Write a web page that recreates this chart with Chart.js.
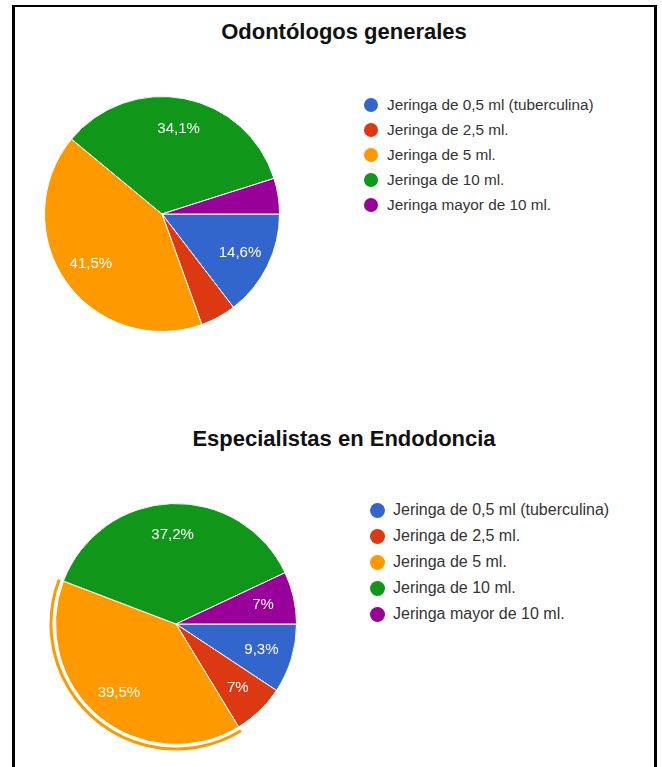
<!DOCTYPE html>
<html>
<head>
<meta charset="utf-8">
<script src="https://cdn.jsdelivr.net/npm/chart.js@4/dist/chart.umd.min.js"></script>
<style>
  body { margin: 0; background: #fff; font-family: "Liberation Sans", Arial, sans-serif; }
  #frame { position: absolute; left: 12px; top: 5px; width: 639px; height: 800px;
           border-left: 3px solid #000; border-right: 3px solid #000; border-top: 2px solid #000; }
  .title { position: absolute; left: 0; width: 688px; text-align: center;
           font-weight: bold; font-size: 22px; color: #111; }
  canvas { position: absolute; }
  ul.legend { position: absolute; list-style: none; margin: 0; padding: 0; color: #333; }
  ul.legend li { display: flex; align-items: center; white-space: nowrap; }
  ul.legend li span { display: inline-block; border-radius: 50%; flex: none; }
  #leg1 { left: 364px; top: 92px; font-size: 15.3px; }
  #leg1 li { height: 25px; }
  #leg1 li span { width: 14px; height: 14px; margin-right: 9px; }
  #leg2 { left: 370px; top: 497px; font-size: 16px; }
  #leg2 li { height: 26px; }
  #leg2 li span { width: 15px; height: 15px; margin-right: 8px; }
</style>
</head>
<body>
<div id="frame"></div>
<div class="title" style="top:19px">Odontólogos generales</div>
<div class="title" style="top:426px">Especialistas en Endodoncia</div>
<canvas id="pie1" width="238" height="238" style="left:43px;top:95px"></canvas>
<ul class="legend" id="leg1"></ul>
<canvas id="pie2" width="256" height="256" style="left:48px;top:496px"></canvas>
<ul class="legend" id="leg2"></ul>
<script>
// categorias y porcentajes
const categorias = [
  'Jeringa de 0,5 ml (tuberculina)',
  'Jeringa de 2,5 ml.',
  'Jeringa de 5 ml.',
  'Jeringa de 10 ml.',
  'Jeringa mayor de 10 ml.'
];
const generales = [14.6, 4.9, 41.5, 34.1, 4.9];
const endodoncia = [9.3, 7, 39.5, 37.2, 7];
const colores = ['#3366cc', '#dc3912', '#ff9900', '#109618', '#990099'];

// leyenda en html a partir de generateLabels
const htmlLegend = {
  id: 'htmlLegend',
  afterUpdate(chart, args, opts) {
    const ul = document.getElementById(opts.containerID);
    ul.innerHTML = '';
    chart.options.plugins.legend.labels.generateLabels(chart).forEach(item => {
      const li = document.createElement('li');
      const dot = document.createElement('span');
      dot.style.background = item.fillStyle;
      li.appendChild(dot);
      li.appendChild(document.createTextNode(item.text));
      ul.appendChild(li);
    });
  }
};

// porcentajes dentro de las porciones
const sliceLabels = {
  id: 'sliceLabels',
  afterDatasetsDraw(chart) {
    const ctx = chart.ctx;
    const data = chart.data.datasets[0].data;
    const total = data.reduce((a, b) => a + b, 0);
    ctx.save();
    ctx.font = '15px "Liberation Sans", Arial, sans-serif';
    ctx.fillStyle = '#fff';
    ctx.textAlign = 'center';
    ctx.textBaseline = 'middle';
    chart.getDatasetMeta(0).data.forEach((arc, i) => {
      const pct = data[i] / total * 100;
      if (pct < 5) return;
      const p = arc.getProps(['x', 'y', 'startAngle', 'endAngle', 'outerRadius'], true);
      const mid = (p.startAngle + p.endAngle) / 2;
      const r = p.outerRadius * 0.74;
      let txt = (Math.round(pct * 10) / 10).toString().replace('.', ',') + '%';
      ctx.fillText(txt, p.x + Math.cos(mid) * r, p.y + Math.sin(mid) * r);
    });
    ctx.restore();
  }
};

// arco resaltado alrededor de una porcion
const ringPlugin = {
  id: 'ring',
  afterDatasetsDraw(chart, args, opts) {
    if (opts.index == null) return;
    const arc = chart.getDatasetMeta(0).data[opts.index];
    const p = arc.getProps(['x', 'y', 'startAngle', 'endAngle', 'outerRadius'], true);
    const ctx = chart.ctx;
    ctx.save();
    ctx.beginPath();
    ctx.arc(p.x, p.y, p.outerRadius + 4.5, p.startAngle, p.endAngle);
    ctx.strokeStyle = colores[opts.index];
    ctx.lineWidth = 3;
    ctx.stroke();
    ctx.restore();
  }
};

function makePie(id, values, legendId, pad, ring) {
  return new Chart(document.getElementById(id), {
    type: 'pie',
    data: {
      labels: categorias,
      datasets: [{
        data: values,
        backgroundColor: colores,
        borderColor: '#fff',
        borderWidth: 1,
        hoverOffset: 0
      }]
    },
    options: {
      responsive: false,
      animation: false,
      devicePixelRatio: 1,
      rotation: 90,
      layout: { padding: pad },
      plugins: {
        legend: { display: false },
        tooltip: { enabled: false },
        htmlLegend: { containerID: legendId },
        ring: { index: ring }
      }
    },
    plugins: [htmlLegend, sliceLabels, ringPlugin]
  });
}

makePie('pie1', generales, 'leg1', 1, null);
makePie('pie2', endodoncia, 'leg2', 7, 2);
</script>
</body>
</html>
